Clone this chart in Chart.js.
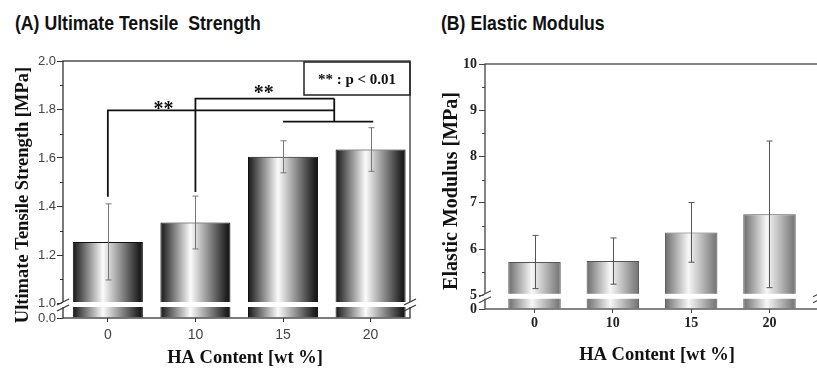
<!DOCTYPE html>
<html>
<head>
<meta charset="utf-8">
<script src="https://cdn.jsdelivr.net/npm/chart.js@4"></script>
<style>
  html, body { margin: 0; padding: 0; background: #fff; overflow: hidden; }
  body { width: 817px; height: 368px; position: relative; }
  canvas { position: absolute; top: 0; }
  #chartA { left: 0; }
  #chartB { left: 420px; }
  .title {
    position: absolute; top: 12px; white-space: pre; color: #111;
    font: bold 21px "Liberation Sans", Arial, sans-serif; line-height: 21px;
    transform: scaleX(0.84); transform-origin: left top;
  }
</style>
</head>
<body>
<div class="title" style="left:15px">(A) Ultimate Tensile  Strength</div>
<div class="title" style="left:441px">(B) Elastic Modulus</div>
<canvas id="chartA" width="420" height="368"></canvas>
<canvas id="chartB" width="410" height="368"></canvas>
<script>
const categories = ['0', '10', '15', '20'];

// (A) ultimate tensile strength [MPa]
const utsMean = [1.254, 1.334, 1.605, 1.635];
const utsErr = [0.157, 0.109, 0.066, 0.09];
const utsTicks = [1.0, 1.2, 1.4, 1.6, 1.8, 2.0];
const utsLow = [0.0];

// (B) elastic modulus [MPa]
const modMean = [5.72, 5.74, 6.36, 6.75];
const modErr = [0.575, 0.5, 0.645, 1.585];
const modTicks = [5, 6, 7, 8, 9, 10];
const modLow = [0];

// significance brackets on (A), in bar index / MPa
const sigStart = [0, 1];
const sigFoot = [1.44, 1.46];
const sigTop = [1.796, 1.845];
const sigJoin = 2.585;
const sigGroup = [2, 3.03];
const sigGroupAt = 1.75;
const starX = [0.635, 1.78];
const starY = [1.815, 1.882];

const serif = '"Liberation Serif", "Times New Roman", serif';
const sans = '"Liberation Sans", Arial, sans-serif';

function shade(stops, pct) {
  return (c) => {
    const xs = c.chart.scales.x;
    if (!xs) return stops[0][1];
    const mid = xs.getPixelForValue(c.dataIndex);
    const half = (xs.getPixelForValue(1) - xs.getPixelForValue(0)) * pct / 2;
    if (!isFinite(mid) || !isFinite(half) || half <= 0) return stops[0][1];
    const g = c.chart.ctx.createLinearGradient(mid - half, 0, mid + half, 0);
    stops.forEach(s => g.addColorStop(s[0], s[1]));
    return g;
  };
}

function decor(o) {
  return {
    id: 'decor',
    afterDatasetsDraw(chart) {
      const { ctx, chartArea: a, scales: { x, y } } = chart;
      ctx.save();
      // error bars
      ctx.strokeStyle = o.errColor;
      ctx.lineWidth = 1;
      o.mean.forEach((m, i) => {
        const px = Math.round(x.getPixelForValue(i)) + 0.5;
        const hi = y.getPixelForValue(m + o.err[i]);
        const lo = y.getPixelForValue(m - o.err[i]);
        ctx.beginPath();
        ctx.moveTo(px, hi); ctx.lineTo(px, lo);
        ctx.moveTo(px - 3, hi); ctx.lineTo(px + 3, hi);
        ctx.moveTo(px - 3, lo); ctx.lineTo(px + 3, lo);
        ctx.stroke();
      });
      // minor ticks
      ctx.strokeStyle = o.frame;
      for (let i = 0; i < o.ticks.length - 1; i++) {
        const py = Math.round(y.getPixelForValue((o.ticks[i] + o.ticks[i + 1]) / 2)) + 0.5;
        ctx.beginPath(); ctx.moveTo(a.left - 3, py); ctx.lineTo(a.left, py); ctx.stroke();
      }
      // frame
      ctx.lineWidth = 1.3;
      ctx.strokeRect(a.left, a.top, a.right - a.left, a.bottom - a.top);
      // axis break
      const j = y.bottom;
      ctx.fillStyle = '#fff';
      ctx.fillRect(a.left - 1.5, j - 1.5, a.right - a.left + 3, 5);
      ctx.lineWidth = 1.1;
      [a.left, a.right].forEach(bx => {
        [j - 1.5, j + 4.5].forEach(by => {
          ctx.beginPath(); ctx.moveTo(bx - 6, by + 3); ctx.lineTo(bx + 6, by - 3); ctx.stroke();
        });
      });
      // axis titles
      ctx.fillStyle = '#111';
      ctx.textAlign = 'center';
      ctx.textBaseline = 'middle';
      ctx.font = 'bold ' + o.xTitle.size + 'px ' + serif;
      ctx.fillText(o.xTitle.text, o.xTitle.x, o.xTitle.y);
      ctx.translate(o.yTitle.x, o.yTitle.y);
      ctx.rotate(-Math.PI / 2);
      ctx.font = 'bold ' + o.yTitle.size + 'px ' + serif;
      ctx.fillText(o.yTitle.text, 0, 0);
      ctx.restore();
      if (o.extra) o.extra(chart);
    }
  };
}

function makeChart(id, o) {
  const tickFont = o.tickFont;
  return new Chart(document.getElementById(id), {
    type: 'bar',
    data: {
      datasets: [
        {
          data: o.mean.map((v, i) => ({ x: i, y: v })),
          yAxisID: 'y',
          backgroundColor: shade(o.stops, o.barPct),
          borderColor: o.edge,
          borderWidth: 1
        },
        {
          data: o.mean.map((v, i) => ({ x: i, y: Math.min(v, o.ticks[0]) })),
          yAxisID: 'y2',
          backgroundColor: shade(o.stops, o.barPct),
          borderColor: o.edge,
          borderWidth: 1
        }
      ]
    },
    options: {
      responsive: false,
      animation: false,
      events: [],
      layout: { padding: o.padding },
      datasets: { bar: { grouped: false, barPercentage: o.barPct, categoryPercentage: 1 } },
      plugins: { legend: { display: false }, tooltip: { enabled: false } },
      scales: {
        x: {
          type: 'linear', min: o.xMin, max: o.xMax, offset: false,
          afterBuildTicks: s => { s.ticks = categories.map((c, i) => ({ value: i })); },
          afterFit: s => { s.height = o.xHeight; },
          ticks: { callback: v => categories[v], font: o.xTickFont, color: o.tickColor, padding: o.xPad, maxRotation: 0 },
          grid: { drawOnChartArea: false, offset: false, tickLength: 4, color: o.frame },
          border: { display: false }
        },
        // lower (compressed) segment; listed first so it ends up under 'y'
        y2: {
          type: 'linear', position: 'left', stack: 'v', stackWeight: o.weights[1],
          min: 0, max: o.ticks[0],
          afterBuildTicks: s => { s.ticks = o.low.map(v => ({ value: v })); },
          afterFit: s => { s.width = o.yWidth; },
          ticks: { callback: o.fmt, font: tickFont, color: o.tickColor, padding: o.yPad },
          grid: { drawOnChartArea: false, tickLength: 6, color: o.frame },
          border: { display: false }
        },
        y: {
          type: 'linear', position: 'left', stack: 'v', stackWeight: o.weights[0],
          min: o.ticks[0], max: o.ticks[o.ticks.length - 1],
          afterBuildTicks: s => { s.ticks = o.ticks.map(v => ({ value: v })); },
          afterFit: s => { s.width = o.yWidth; },
          ticks: { callback: o.fmt, font: tickFont, color: o.tickColor, padding: o.yPad },
          grid: { drawOnChartArea: false, tickLength: 6, color: o.frame },
          border: { display: false }
        }
      }
    },
    plugins: [decor(o)]
  });
}

function sigMarks(chart) {
  const { ctx, chartArea: a, scales: { x, y } } = chart;
  ctx.save();
  ctx.strokeStyle = '#111';
  ctx.lineWidth = 1.8;
  ctx.beginPath();
  sigStart.forEach((s, i) => {
    ctx.moveTo(x.getPixelForValue(s), y.getPixelForValue(sigFoot[i]));
    ctx.lineTo(x.getPixelForValue(s), y.getPixelForValue(sigTop[i]));
    ctx.lineTo(x.getPixelForValue(sigJoin), y.getPixelForValue(sigTop[i]));
  });
  ctx.moveTo(x.getPixelForValue(sigJoin), y.getPixelForValue(Math.max(...sigTop)));
  ctx.lineTo(x.getPixelForValue(sigJoin), y.getPixelForValue(sigGroupAt));
  ctx.moveTo(x.getPixelForValue(sigGroup[0]), y.getPixelForValue(sigGroupAt));
  ctx.lineTo(x.getPixelForValue(sigGroup[1]), y.getPixelForValue(sigGroupAt));
  ctx.stroke();

  ctx.fillStyle = '#111';
  ctx.textAlign = 'center';
  ctx.textBaseline = 'alphabetic';
  ctx.font = 'bold 20px ' + serif;
  starX.forEach((sx, i) => {
    ctx.fillText('**', x.getPixelForValue(sx), y.getPixelForValue(starY[i]) + 9.5);
  });

  // key box
  const bw = 106, bh = 33;
  ctx.lineWidth = 1.5;
  ctx.strokeStyle = '#222';
  ctx.strokeRect(a.right - bw, a.top + 1, bw, bh);
  ctx.font = 'bold 15px ' + serif;
  ctx.fillText('** : p < 0.01', a.right - bw / 2, a.top + 23);
  ctx.restore();
}

makeChart('chartA', {
  mean: utsMean, err: utsErr, ticks: utsTicks, low: utsLow,
  fmt: v => Number(v).toFixed(1),
  stops: [[0, '#161616'], [0.43, '#fbfbfb'], [0.94, '#222'], [1, '#111']],
  edge: '#111', errColor: '#777', frame: '#333',
  barPct: 0.8, xMin: -0.512, xMax: 3.45,
  padding: { top: 61, right: 10, bottom: 0, left: 0 },
  yWidth: 63, xHeight: 50, weights: [242.5, 14.5],
  tickFont: { family: sans, size: 13 }, xTickFont: { family: sans, size: 14 },
  tickColor: '#444', yPad: 1, xPad: 5,
  xTitle: { text: 'HA Content [wt %]', x: 245, y: 358, size: 18.5 },
  yTitle: { text: 'Ultimate Tensile Strength [MPa]', x: 23, y: 195, size: 18.5 },
  extra: sigMarks
});

makeChart('chartB', {
  mean: modMean, err: modErr, ticks: modTicks, low: modLow,
  fmt: v => String(v),
  stops: [[0, '#6c6c6c'], [0.45, '#f7f7f7'], [1, '#707070']],
  edge: '#555', errColor: '#555', frame: '#444',
  barPct: 0.67, xMin: -0.632, xMax: 3.632,
  padding: { top: 64, right: 11, bottom: 0, left: 0 },
  yWidth: 65, xHeight: 59, weights: [231.3, 13.7],
  tickFont: { family: serif, size: 14, weight: 'bold' }, xTickFont: { family: serif, size: 14, weight: 'bold' },
  tickColor: '#222', yPad: 2, xPad: 2,
  xTitle: { text: 'HA Content [wt %]', x: 237, y: 355, size: 18.5 },
  yTitle: { text: 'Elastic Modulus [MPa]', x: 32, y: 191, size: 20 }
});
</script>
</body>
</html>
